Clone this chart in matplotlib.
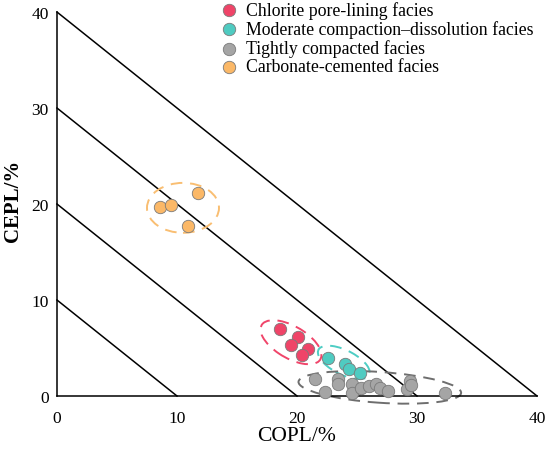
import matplotlib
matplotlib.use("Agg")
import matplotlib.pyplot as plt
from matplotlib.patches import Ellipse

plt.rcParams['font.family'] = ['Liberation Serif', 'DejaVu Serif']

# ---- data ----
labels = ["Chlorite pore-lining facies",
          "Moderate compaction\u2013dissolution facies",
          "Tightly compacted facies",
          "Carbonate-cemented facies"]
colors = ["#EF4468", "#4FCBC1", "#A5A5A5", "#FBB867"]
ell_colors = ["#F0456A", "#4ECDC4", "#6E6E6E", "#F9BE72"]

chl_x = [18.6, 20.06, 19.53, 20.88, 20.44]
chl_y = [6.98, 6.11, 5.35, 4.94, 4.32]

mod_x = [22.57, 24.04, 24.33, 25.26]
mod_y = [3.97, 3.35, 2.76, 2.42]

tig_x = [21.5, 22.3, 23.45, 23.45, 24.6, 24.6, 25.35, 26.0, 26.6, 26.95, 27.6, 29.15, 29.4, 29.5, 32.3]
tig_y = [1.73, 0.45, 1.73, 1.28, 1.2, 0.32, 0.8, 1.04, 1.3, 0.8, 0.5, 0.7, 1.6, 1.14, 0.35]

car_x = [8.57, 9.53, 11.78, 10.94]
car_y = [19.7, 19.93, 21.14, 17.69]

# ellipses: center x, center y, width, height, angle
ell_cx = [19.5, 23.9, 26.9, 10.5]
ell_cy = [5.6, 3.5, 0.9, 19.6]
ell_w = [6.1, 5.0, 13.6, 6.0]
ell_h = [3.1, 2.4, 3.2, 5.2]
ell_a = [-40, -35, -5, 0]

diag_levels = [10, 20, 30, 40]
ticks = [0, 10, 20, 30, 40]

fig = plt.figure(figsize=(5.5, 4.52), dpi=100)
ax = fig.add_axes([0.1036, 0.1217, 0.8728, 0.8495])
ax.set_xlim(0, 40)
ax.set_ylim(0, 40)

for v in diag_levels:
    ax.plot([0, v], [v, 0], color='black', lw=1.1, zorder=1, clip_on=False)

series = [(chl_x, chl_y), (mod_x, mod_y), (tig_x, tig_y), (car_x, car_y)]
for (xs, ys), c, lab in zip(series, colors, labels):
    ax.scatter(xs, ys, s=80, color=c, edgecolors='#7a7a7a', linewidths=0.6,
               zorder=3, label=lab, clip_on=False)

for cx, cy, w, h, a, c in zip(ell_cx, ell_cy, ell_w, ell_h, ell_a, ell_colors):
    e = Ellipse((cx, cy), w, h, angle=a, fill=False, edgecolor=c, lw=1.4,
                linestyle=(0, (6, 4)), zorder=2, clip_on=False)
    ax.add_patch(e)

for s in ['top', 'right']:
    ax.spines[s].set_visible(False)
for s in ['left', 'bottom']:
    ax.spines[s].set_linewidth(1.1)

ax.set_xticks(ticks)
ax.set_yticks(ticks)
ax.tick_params(axis='x', length=0, labelsize=12.5, pad=10)
ax.tick_params(axis='y', length=0, labelsize=12.5, pad=6)
ax.set_xlabel("COPL/%", fontsize=15.5, labelpad=0)
ax.set_ylabel("CEPL/%", fontsize=15, fontweight='bold')
ax.yaxis.set_label_coords(-0.07, 0.51)

leg = ax.legend(loc='upper left', bbox_to_anchor=(0.316, 1.047), frameon=False,
                fontsize=12.8, handletextpad=0.2, labelspacing=0.07,
                handlelength=1.5, borderaxespad=0, markerscale=1.0)

fig.savefig("out.png", dpi=100)
